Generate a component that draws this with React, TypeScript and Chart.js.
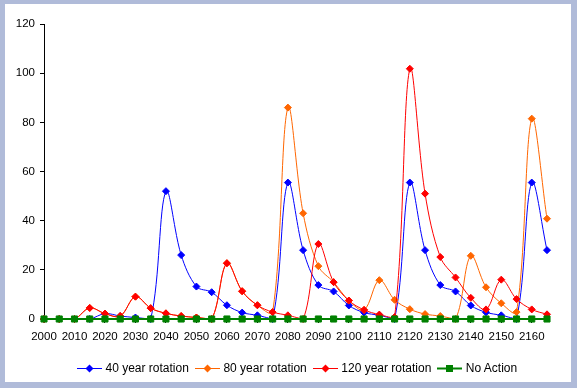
import React, { useEffect, useRef } from 'react';
import { Chart, registerables } from 'chart.js';

Chart.register(...registerables);

const years = [
  '2000', '2005', '2010', '2015', '2020', '2025', '2030', '2035', '2040', '2045',
  '2050', '2055', '2060', '2065', '2070', '2075', '2080', '2085', '2090', '2095',
  '2100', '2105', '2110', '2115', '2120', '2125', '2130', '2135', '2140', '2145',
  '2150', '2155', '2160', '2165',
];

const rotation40 = [
  0, 0, 0, 0, 2.2, 1.2, 0.6, 0, 52, 26,
  13.2, 10.9, 5.6, 2.6, 1.5, 0, 55.5, 28, 13.8, 11.2,
  5.5, 2.6, 1.5, 0, 55.5, 28, 13.8, 11.2, 5.5, 2.7,
  1.5, 0, 55.5, 28,
];

const rotation80 = [
  0, 0, 0, 4.5, 2.2, 1.2, 9.1, 4.4, 2.3, 1.2,
  0.6, 0, 22.7, 11.3, 5.6, 2.8, 86, 43, 21.5, 15,
  7.5, 3.7, 15.8, 7.8, 4, 2, 1.2, 0, 25.7, 12.9,
  6.4, 2.8, 81.5, 40.8,
];

const rotation120 = [
  0, 0, 0, 4.5, 2.2, 1.2, 9.1, 4.4, 2.3, 1.2,
  0.6, 0, 22.7, 11.3, 5.6, 2.8, 1.5, 0, 30.5, 15,
  7.5, 3.7, 1.8, 0.8, 101.8, 51, 25.2, 16.9, 8.6, 3.9,
  16, 8.1, 3.9, 1.9,
];

const noAction = [
  0, 0, 0, 0, 0, 0, 0, 0, 0, 0,
  0, 0, 0, 0, 0, 0, 0, 0, 0, 0,
  0, 0, 0, 0, 0, 0, 0, 0, 0, 0,
  0, 0, 0, 0,
];

const yTicks = [0, 20, 40, 60, 80, 100, 120];

const seriesNames = ['40 year rotation', '80 year rotation', '120 year rotation', 'No Action'];
const seriesColors = ['#0000FF', '#FF6600', '#FF0000', '#008000'];
const seriesMarkers = ['diamond', 'diamond', 'diamond', 'square'];

const FONT = '"Liberation Sans", Arial, sans-serif';

function LegendMarker({ color, marker }: { color: string; marker: string }) {
  return (
    <svg width="25" height="11" style={{ display: 'block' }}>
      <line x1="0" y1="5.5" x2="25" y2="5.5" stroke={color} strokeWidth={marker === 'square' ? 2 : 1} />
      {marker === 'diamond' ? (
        <polygon points="12.5,1.5 16.5,5.5 12.5,9.5 8.5,5.5" fill={color} />
      ) : (
        <rect x="9" y="2" width="7" height="7" fill={color} />
      )}
    </svg>
  );
}

export default function App() {
  const canvasRef = useRef<HTMLCanvasElement | null>(null);

  useEffect(() => {
    const canvas = canvasRef.current;
    if (!canvas) return;
    const allData = [rotation40, rotation80, rotation120, noAction];
    const datasets = allData.map((d, i) => ({
      label: seriesNames[i],
      data: d,
      borderColor: seriesColors[i],
      backgroundColor: seriesColors[i],
      pointBackgroundColor: seriesColors[i],
      pointBorderColor: seriesColors[i],
      borderWidth: i === 3 ? 2 : 1,
      pointBorderWidth: 1,
      pointStyle: seriesMarkers[i] === 'diamond' ? 'rectRot' : 'rect',
      pointRadius: seriesMarkers[i] === 'diamond' ? 3.5 : 4.3,
      pointHoverRadius: seriesMarkers[i] === 'diamond' ? 3.5 : 4.3,
      tension: i === 3 ? 0 : 0.35,
      fill: false,
      clip: false as any,
      order: 4 - i,
    }));

    const chart = new Chart(canvas, {
      type: 'line',
      data: { labels: years, datasets: datasets as any },
      options: {
        animation: false,
        responsive: false,
        maintainAspectRatio: false,
        events: [],
        layout: { padding: { left: 0, right: 24, top: 20, bottom: 33 } },
        plugins: {
          legend: { display: false },
          tooltip: { enabled: false },
          title: { display: false },
        },
        scales: {
          x: {
            type: 'category',
            offset: false,
            grid: {
              drawOnChartArea: false,
              drawTicks: true,
              tickLength: 4,
              tickColor: (ctx: any) => (ctx.index % 2 === 0 ? '#000000' : 'rgba(0,0,0,0)'),
            },
            border: { display: true, color: '#000000', width: 1 },
            ticks: {
              autoSkip: false,
              maxRotation: 0,
              minRotation: 0,
              padding: 7,
              color: '#000000',
              font: { family: FONT, size: 11.5 },
              callback: (_v: any, i: number) => (i % 2 === 0 ? years[i] : ''),
            },
            afterFit: (s: any) => {
              s.height = 30;
            },
          },
          y: {
            min: yTicks[0],
            max: yTicks[yTicks.length - 1],
            grid: {
              drawOnChartArea: false,
              drawTicks: true,
              tickLength: 4,
              tickColor: '#000000',
            },
            border: { display: true, color: '#000000', width: 1 },
            afterBuildTicks: (s: any) => {
              s.ticks = yTicks.map((v) => ({ value: v }));
            },
            ticks: {
              padding: 5,
              color: '#000000',
              font: { family: FONT, size: 11.5 },
            },
            afterFit: (s: any) => {
              s.width = 39;
            },
          },
        },
      },
    });
    return () => {
      chart.destroy();
    };
  }, []);

  return (
    <div
      style={{
        position: 'absolute',
        left: 0,
        top: 0,
        width: 577,
        height: 388,
        background: '#B0BBD9',
        fontFamily: FONT,
      }}
    >
      <div
        style={{
          position: 'absolute',
          left: 5,
          top: 4,
          width: 566,
          height: 378,
          background: '#FFFFFF',
        }}
      >
        <canvas ref={canvasRef} width={566} height={378} style={{ display: 'block', width: 566, height: 378 }} />
      </div>
      <div
        style={{
          position: 'absolute',
          left: 77,
          top: 361,
          height: 15,
          display: 'flex',
          alignItems: 'center',
          fontSize: 12,
          lineHeight: '15px',
          color: '#000',
          whiteSpace: 'nowrap',
        }}
      >
        {seriesNames.map((name, i) => (
          <div key={name} style={{ display: 'flex', alignItems: 'center', marginRight: 6 }}>
            <LegendMarker color={seriesColors[i]} marker={seriesMarkers[i]} />
            <span style={{ marginLeft: 3.5 }}>{name}</span>
          </div>
        ))}
      </div>
    </div>
  );
}
